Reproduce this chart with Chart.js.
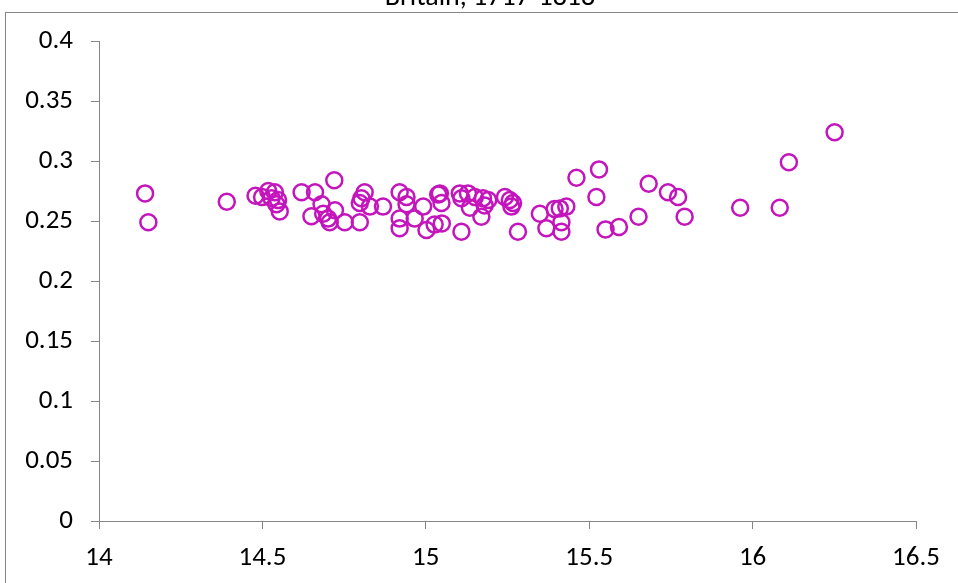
<!DOCTYPE html>
<html>
<head>
<meta charset="utf-8">
<script src="https://cdn.jsdelivr.net/npm/chart.js@4"></script>
<style>
  html, body { margin: 0; padding: 0; background: #fff; }
</style>
</head>
<body>
<canvas id="chart" width="958" height="583"></canvas>
<script>
// values
var xValues = [
    14.141, 14.151, 14.391, 14.479, 14.499, 14.518, 14.538, 14.528, 14.548, 14.543,
    14.553, 14.720, 14.620, 14.661, 14.681, 14.650, 14.686, 14.701, 14.722, 14.706,
    14.752, 14.813, 14.803, 14.798, 14.829, 14.869, 14.798, 14.920, 14.941, 14.941,
    14.920, 14.920, 14.966, 14.992, 15.002, 15.038, 15.027, 15.049, 15.043, 15.048,
    15.109, 15.104, 15.109, 15.129, 15.150, 15.135, 15.175, 15.191, 15.170, 15.180,
    15.242, 15.257, 15.267, 15.262, 15.282, 15.349, 15.369, 15.394, 15.410, 15.430,
    15.415, 15.415, 15.461, 15.530, 15.522, 15.550, 15.591, 15.651, 15.682, 15.741,
    15.772, 15.792, 15.962, 16.083, 16.111, 16.251
];
var yValues = [
    0.273, 0.249, 0.266, 0.271, 0.270, 0.275, 0.274, 0.269, 0.2675, 0.264,
    0.258, 0.284, 0.274, 0.274, 0.264, 0.254, 0.256, 0.252, 0.259, 0.249,
    0.249, 0.274, 0.269, 0.265, 0.262, 0.262, 0.249, 0.274, 0.270, 0.264,
    0.252, 0.244, 0.252, 0.262, 0.2425, 0.272, 0.247, 0.248, 0.273, 0.265,
    0.241, 0.273, 0.269, 0.273, 0.270, 0.261, 0.269, 0.2675, 0.2535, 0.263,
    0.270, 0.2675, 0.265, 0.262, 0.241, 0.256, 0.244, 0.260, 0.2605, 0.262,
    0.249, 0.241, 0.286, 0.293, 0.270, 0.243, 0.245, 0.2535, 0.281, 0.274,
    0.270, 0.2535, 0.261, 0.261, 0.299, 0.324
];
var titleText = 'Britain, 1717-1818';

var points = xValues.map(function (x, i) { return { x: x, y: yValues[i] }; });

var axisGrey = '#868686';
var fontFamily = 'Carlito, Calibri, Lato, sans-serif';
var tickFont = { family: fontFamily, size: 27 };

// chart frame and the (cut off) title
var frame = {
    id: 'frame',
    beforeDraw(chart) {
        var c = chart.ctx;
        c.save();
        c.fillStyle = '#fff';
        c.fillRect(0, 0, chart.width, chart.height);
        c.strokeStyle = axisGrey;
        c.lineWidth = 1;
        c.strokeRect(5.5, 12.5, 2000, 2000);
        c.restore();
    },
    afterDraw(chart) {
        var c = chart.ctx;
        c.save();
        c.fillStyle = '#000';
        c.font = '28px ' + fontFamily;
        c.textAlign = 'center';
        c.textBaseline = 'alphabetic';
        c.fillText(titleText, 490, 5);
        c.restore();
    }
};

new Chart(document.getElementById('chart').getContext('2d'), {
    type: 'scatter',
    data: {
        datasets: [{
            data: points,
            pointStyle: 'circle',
            pointRadius: 8,
            pointHoverRadius: 8,
            pointBorderWidth: 2.5,
            borderColor: 'rgb(196,20,188)',
            backgroundColor: 'rgba(0,0,0,0)'
        }]
    },
    options: {
        responsive: false,
        animation: false,
        layout: { padding: { top: 41, right: 42, left: 0, bottom: 0 } },
        plugins: {
            legend: { display: false },
            tooltip: { enabled: false }
        },
        scales: {
            x: {
                type: 'linear',
                min: 14,
                max: 16.5,
                ticks: {
                    stepSize: 0.5,
                    color: '#000',
                    font: tickFont,
                    padding: 13,
                    maxRotation: 0,
                    callback: function (v) { return String(+v.toFixed(2)); }
                },
                grid: { drawOnChartArea: false, tickLength: 8, color: axisGrey },
                border: { color: axisGrey },
                afterFit(s) { s.height = 62; }
            },
            y: {
                min: 0,
                max: 0.4,
                ticks: {
                    stepSize: 0.05,
                    color: '#000',
                    font: tickFont,
                    padding: 18,
                    callback: function (v) { return String(+v.toFixed(2)); }
                },
                grid: { drawOnChartArea: false, tickLength: 8, color: axisGrey },
                border: { color: axisGrey },
                afterFit(s) { s.width = 99; }
            }
        }
    },
    plugins: [frame]
});
</script>
</body>
</html>
